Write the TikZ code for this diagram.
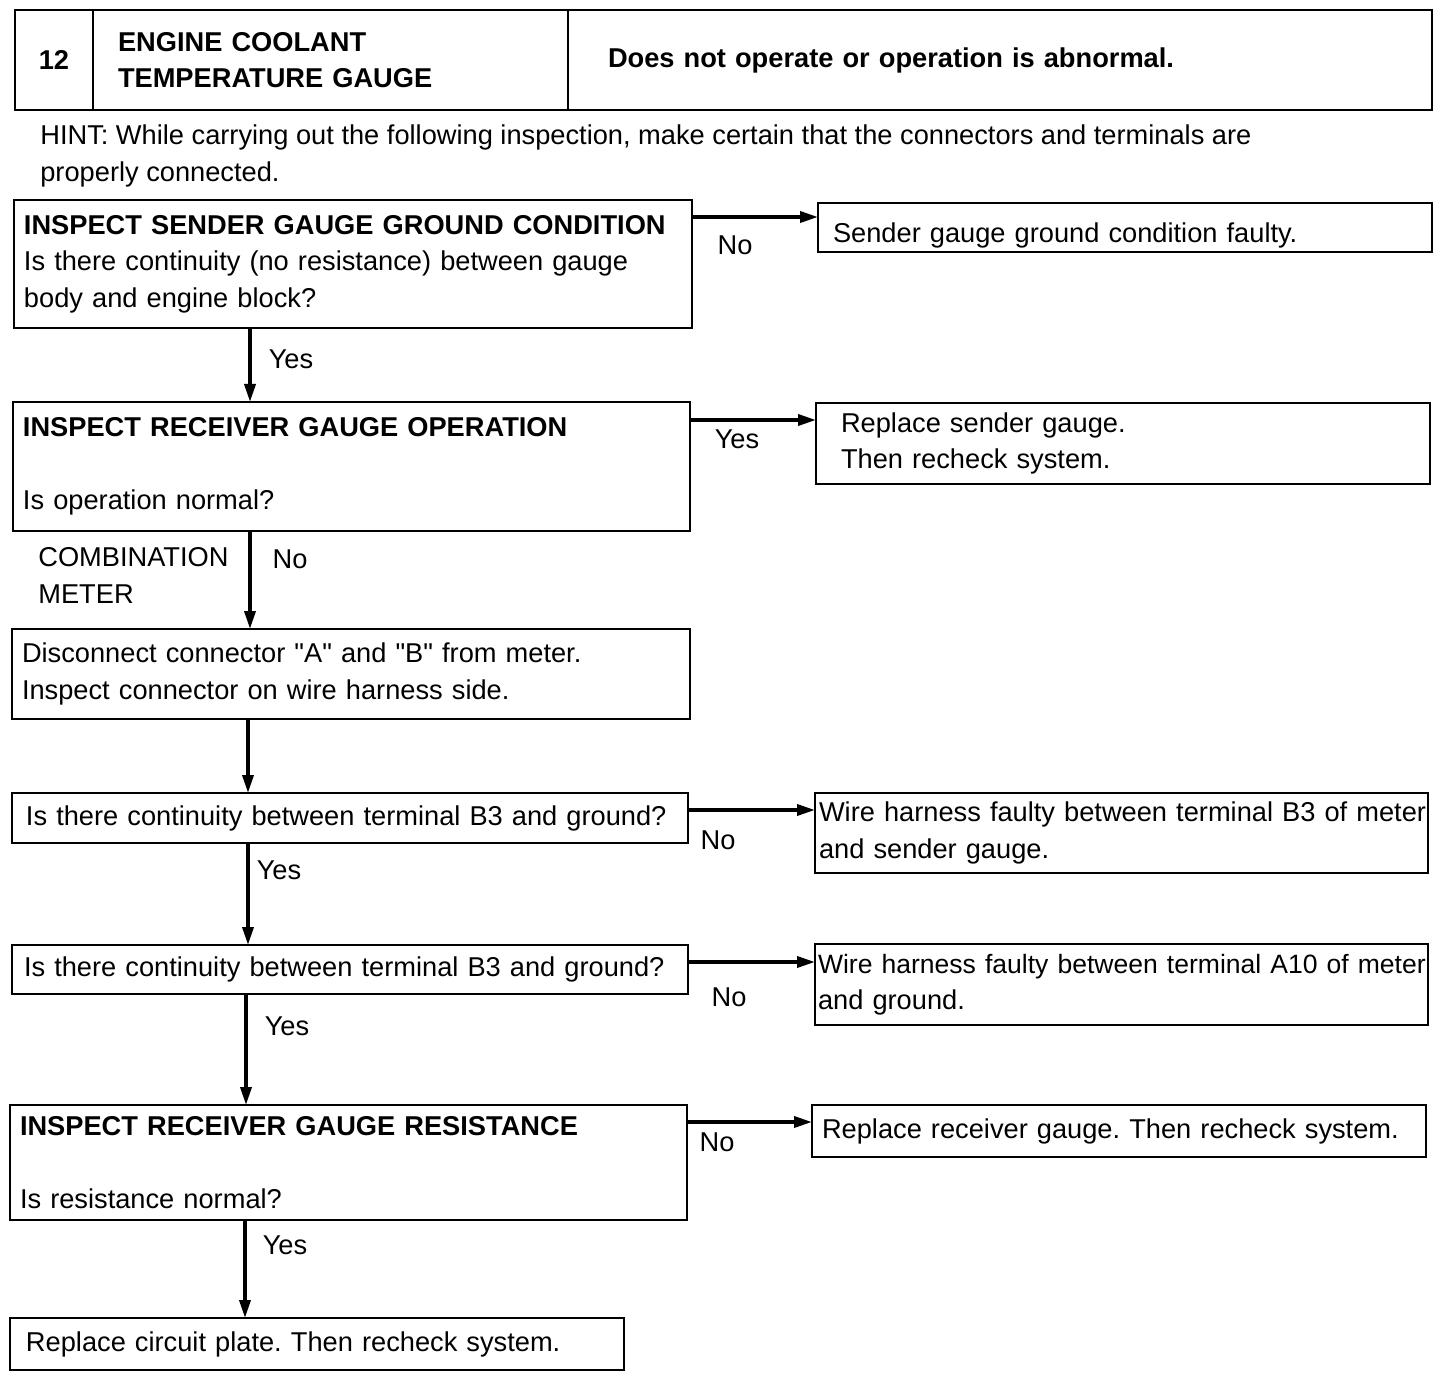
\documentclass[tikz,border=0pt]{standalone}
\usepackage{fontspec}
\setmainfont{Liberation Sans}
\usetikzlibrary{arrows.meta,positioning}
\newcommand{\gaugeFont}{\fontsize{15.5}{20.8}\selectfont\frenchspacing}
\tikzset{
  headCell/.style={
    draw,
    line width=1.2pt,
    outer sep=0pt,
    inner ysep=0pt,
    minimum height=2.0cm,
    font=\gaugeFont\bfseries,
    align=left
  },
  gaugeBox/.style={
    draw,
    line width=1.2pt,
    anchor=north west,
    outer sep=0pt,
    inner ysep=0pt,
    align=left,
    font=\gaugeFont
  },
  gaugeArrow/.style={-{Triangle[length=0.36cm,width=0.22cm]}, line width=2pt},
  gaugeLabel/.style={font=\gaugeFont, inner sep=1pt},
  gaugeNote/.style={font=\gaugeFont, align=left, anchor=west, inner sep=0pt}
}

\begin{document}
\begin{tikzpicture}[x=1cm,y=1cm]
  \useasboundingbox (0,0) rectangle (28.8,-27.6);

  % header
  \node[headCell, anchor=north west, minimum width=1.56cm, inner xsep=0pt] (num) at (0.30,-0.20) {12};
  \node[headCell, anchor=north west, minimum width=9.5cm, text width=8.5cm, inner xsep=0.5cm]
    (title) at (num.north east) {ENGINE COOLANT\\TEMPERATURE GAUGE};
  \node[headCell, anchor=north west, minimum width=17.28cm, text width=15.68cm, inner xsep=0.8cm]
    (symptom) at (title.north east) {Does not operate or operation is abnormal.};

  \node[gaugeNote] (hint) at (0.80,-3.12)
    {HINT: While carrying out the following inspection, make certain that the connectors and terminals are\\
    properly connected.};

  % left column
  \node[gaugeBox, minimum width=13.56cm, minimum height=2.56cm, text width=13.16cm, inner xsep=0.2cm]
    (q1) at (0.28,-4.00)
    {\textbf{INSPECT SENDER GAUGE GROUND CONDITION}\\
    Is there continuity (no resistance) between gauge\\
    body and engine block?};
  \node[gaugeBox, minimum width=13.54cm, minimum height=2.58cm, text width=13.14cm, inner xsep=0.2cm]
    (q2) at (0.26,-8.04)
    {\textbf{INSPECT RECEIVER GAUGE OPERATION}\\[20.8pt]
    Is operation normal?};
  \node[gaugeBox, minimum width=13.56cm, minimum height=1.80cm, text width=13.16cm, inner xsep=0.2cm]
    (q3) at (0.24,-12.58)
    {Disconnect connector \textquotedbl A\textquotedbl{} and \textquotedbl B\textquotedbl{} from meter.\\
    Inspect connector on wire harness side.};
  \node[gaugeBox, minimum width=13.52cm, minimum height=1.00cm, text width=12.96cm, inner xsep=0.28cm]
    (q4) at (0.24,-15.86)
    {Is there continuity between terminal B3 and ground?};
  \node[gaugeBox, minimum width=13.52cm, minimum height=0.98cm, text width=13.04cm, inner xsep=0.24cm]
    (q5) at (0.24,-18.90)
    {Is there continuity between terminal B3 and ground?};
  \node[gaugeBox, minimum width=13.54cm, minimum height=2.30cm, text width=13.14cm, inner xsep=0.2cm]
    (q6) at (0.20,-22.10)
    {\textbf{INSPECT RECEIVER GAUGE RESISTANCE}\\[20.8pt]
    Is resistance normal?};
  \node[gaugeBox, minimum width=12.28cm, minimum height=1.04cm, text width=11.64cm, inner xsep=0.32cm]
    (q7) at (0.20,-26.36)
    {Replace circuit plate. Then recheck system.};

  % right column
  \node[gaugeBox, minimum width=12.28cm, minimum height=0.98cm, text width=11.68cm, inner xsep=0.3cm,
    text height=0.72cm]
    (r1) at (16.36,-4.06)
    {Sender gauge ground condition faulty.};
  \node[gaugeBox, minimum width=12.28cm, minimum height=1.62cm, text width=11.28cm, inner xsep=0.5cm]
    (r2) at (16.32,-8.06)
    {Replace sender gauge.\\Then recheck system.};
  \node[gaugeBox, minimum width=12.26cm, minimum height=1.60cm, text width=12.10cm, inner xsep=0.08cm]
    (r4) at (16.30,-15.86)
    {\mbox{Wire harness faulty between terminal B3 of meter}\\and sender gauge.};
  \node[gaugeBox, minimum width=12.26cm, minimum height=1.62cm, text width=12.14cm, inner xsep=0.04cm]
    (r5) at (16.30,-18.88)
    {\mbox{\fontsize{15.1}{20.8}\selectfont Wire harness faulty between terminal A10 of meter}\\and ground.};
  \node[gaugeBox, minimum width=12.28cm, minimum height=1.04cm, text width=11.88cm, inner xsep=0.2cm]
    (r6) at (16.24,-22.10)
    {Replace receiver gauge. Then recheck system.};

  \node[gaugeNote] (meter) at (0.76,-11.51) {COMBINATION\\METER};

  % side branches
  \coordinate (n1) at ([yshift=-0.34cm]q1.north east);
  \coordinate (n2) at ([yshift=-0.36cm]q2.north east);
  \coordinate (n4) at ([yshift=-0.34cm]q4.north east);
  \coordinate (n5) at ([yshift=-0.34cm]q5.north east);
  \coordinate (n6) at ([yshift=-0.34cm]q6.north east);
  \draw[gaugeArrow] (n1) -- (n1 -| r1.west);
  \draw[gaugeArrow] (n2) -- (n2 -| r2.west);
  \draw[gaugeArrow] (n4) -- (n4 -| r4.west);
  \draw[gaugeArrow] (n5) -- (n5 -| r5.west);
  \draw[gaugeArrow] (n6) -- (n6 -| r6.west);
  \node[gaugeLabel] (no1) at ([xshift=0.86cm,yshift=-0.56cm]n1) {No};
  \node[gaugeLabel] (yes2) at ([xshift=0.94cm,yshift=-0.38cm]n2) {Yes};
  \node[gaugeLabel] (no4) at ([xshift=0.60cm,yshift=-0.60cm]n4) {No};
  \node[gaugeLabel] (no5) at ([xshift=0.82cm,yshift=-0.70cm]n5) {No};
  \node[gaugeLabel] (no6) at ([xshift=0.60cm,yshift=-0.40cm]n6) {No};

  % main line
  \coordinate (s1) at ([xshift=4.72cm]q1.south west);
  \coordinate (s2) at ([xshift=4.74cm]q2.south west);
  \coordinate (s3) at ([xshift=4.72cm]q3.south west);
  \coordinate (s4) at ([xshift=4.72cm]q4.south west);
  \coordinate (s5) at ([xshift=4.68cm]q5.south west);
  \coordinate (s6) at ([xshift=4.70cm]q6.south west);
  \draw[gaugeArrow] (s1) -- (s1 |- q2.north);
  \draw[gaugeArrow] (s2) -- (s2 |- q3.north);
  \draw[gaugeArrow] (s3) -- (s3 |- q4.north);
  \draw[gaugeArrow] (s4) -- (s4 |- q5.north);
  \draw[gaugeArrow] (s5) -- (s5 |- q6.north);
  \draw[gaugeArrow] (s6) -- (s6 |- q7.north);
  \node[gaugeLabel] (yes1) at ([xshift=0.82cm,yshift=-0.62cm]s1) {Yes};
  \node[gaugeLabel] (no2) at ([xshift=0.80cm,yshift=-0.56cm]s2) {No};
  \node[gaugeLabel] (yes4) at ([xshift=0.62cm,yshift=-0.54cm]s4) {Yes};
  \node[gaugeLabel] (yes5) at ([xshift=0.82cm,yshift=-0.64cm]s5) {Yes};
  \node[gaugeLabel] (yes6) at ([xshift=0.80cm,yshift=-0.50cm]s6) {Yes};
\end{tikzpicture}
\end{document}
